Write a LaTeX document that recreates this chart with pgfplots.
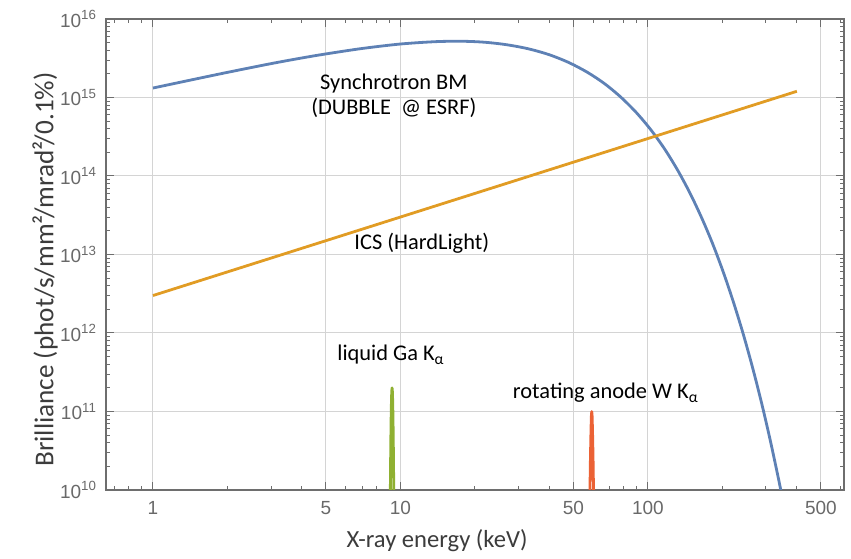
\documentclass[border=0pt]{standalone}
\usepackage{fontspec}
\setmainfont{Carlito}
\newfontfamily\tickfont{Liberation Sans}
\usepackage{pgfplots}
\pgfplotsset{compat=1.18}
\definecolor{bmBlue}{RGB}{94,129,181}
\definecolor{icsOrange}{RGB}{225,156,36}
\definecolor{gaGreen}{RGB}{143,176,50}
\definecolor{wRed}{RGB}{235,98,53}
\definecolor{frameGray}{RGB}{110,110,110}
\definecolor{gridGray}{RGB}{212,212,212}
\definecolor{tickGray}{RGB}{105,105,105}
\definecolor{labelGray}{RGB}{60,60,60}

\begin{document}
\begin{tikzpicture}
\begin{axis}[
    xmode=log, ymode=log,
    width=369pt, height=235.5pt, scale only axis,
    xmin=0.646, xmax=620,
    ymin=1e10, ymax=1e16,
    xtick={1,5,10,50,100,500},
    xticklabels={1,5,10,50,100,500},
    minor xtick={0.7,0.8,0.9,2,3,4,6,7,8,9,20,30,40,60,70,80,90,200,300,400,600},
    ytick={1e10,1e11,1e12,1e13,1e14,1e15,1e16},
    yticklabels={10\textsuperscript{10},10\textsuperscript{11},10\textsuperscript{12},10\textsuperscript{13},10\textsuperscript{14},10\textsuperscript{15},10\textsuperscript{16}},
    minor ytick={2e10,3e10,4e10,5e10,6e10,7e10,8e10,9e10,
                 2e11,3e11,4e11,5e11,6e11,7e11,8e11,9e11,
                 2e12,3e12,4e12,5e12,6e12,7e12,8e12,9e12,
                 2e13,3e13,4e13,5e13,6e13,7e13,8e13,9e13,
                 2e14,3e14,4e14,5e14,6e14,7e14,8e14,9e14,
                 2e15,3e15,4e15,5e15,6e15,7e15,8e15,9e15},
    xmajorgrids=true, ymajorgrids=true,
    grid style={draw=gridGray, line width=0.5pt},
    tick align=inside,
    major tick length=4pt, minor tick length=2.2pt,
    every tick/.style={draw=frameGray, line width=0.5pt},
    axis line style={draw=frameGray, line width=0.6pt},
    ticklabel style={font=\tickfont\fontsize{9.5}{11}\selectfont, text=tickGray},
    xticklabel style={yshift=-2pt},
    yticklabel style={xshift=-1pt},
    xlabel={X-ray energy (keV)},
    ylabel={Brilliance (phot/s/mm²/mrad²/0.1\%)},
    xlabel style={font=\fontsize{12.3}{14}\selectfont, text=labelGray,
                  at={(axis description cs:0.4485,-0.108)}, anchor=center},
    ylabel style={font=\fontsize{13.6}{15}\selectfont, text=labelGray,
                  at={(axis description cs:-0.0827,0.468)}, anchor=center},
    every axis plot/.style={line width=1.4pt, line join=round},
]
% synchrotron bending magnet
\addplot[bmBlue, smooth] coordinates {
    (1,1.32e15) (1.5,1.73e15) (2,2.09e15) (3,2.70e15) (4,3.19e15)
    (5,3.59e15) (7,4.21e15) (10,4.80e15) (14,5.15e15) (18,5.20e15)
    (22,5.05e15) (27,4.69e15) (33,4.16e15) (40,3.50e15) (48,2.78e15)
    (57,2.09e15) (67,1.49e15) (78,1.00e15) (90,6.37e14) (103,3.84e14)
    (117,2.19e14) (132,1.18e14) (148,6.03e13) (165,2.92e13) (183,1.35e13)
    (202,5.87e12) (222,2.43e12) (243,9.59e11) (265,3.59e11) (288,1.28e11)
    (312,4.32e10) (337,1.39e10) (352,7.03e9)
};
% inverse Compton source
\addplot[icsOrange] coordinates {
    (1,3.0e12) (400,1.2e15)
};
% liquid Ga K-alpha
\addplot[gaGreen] coordinates {
    (9.10,8.7e9) (9.125,2.3e10) (9.15,5.0e10) (9.175,9.2e10) (9.2,1.41e11)
    (9.225,1.83e11) (9.25,2.0e11) (9.275,1.83e11) (9.3,1.41e11)
    (9.325,9.2e10) (9.35,5.0e10) (9.375,2.3e10) (9.40,8.7e9)
};
% rotating anode W K-alpha
\addplot[wRed] coordinates {
    (58.3,8.9e9) (58.4,1.35e10) (58.6,2.75e10) (58.9,6.0e10) (59.1,8.8e10)
    (59.3,1.0e11) (59.5,8.8e10) (59.7,6.0e10) (60.0,2.75e10) (60.2,1.35e10)
    (60.3,8.9e9)
};
\node[font=\fontsize{11.2}{13}\selectfont] at (axis cs:9.41,1.49e15) {Synchrotron BM};
\node[font=\fontsize{11.2}{13}\selectfont] at (axis cs:9.41,7.35e14) {(DUBBLE\ \ @ ESRF)};
\node[font=\fontsize{11.2}{13}\selectfont] at (axis cs:12.2,1.40e13) {ICS (HardLight)};
\node[font=\fontsize{11.2}{13}\selectfont] at (axis cs:9.16,5.25e11) {liquid Ga K\textsubscript{α}};
\node[font=\fontsize{11.2}{13}\selectfont] at (axis cs:67.6,1.72e11) {rotating anode W K\textsubscript{α}};
\coordinate (sw) at (rel axis cs:0,0);
\coordinate (ne) at (rel axis cs:1,1);
\end{axis}
\pgfresetboundingbox
\path ([shift={(-53pt,-34pt)}]sw) rectangle ([shift={(3.5pt,9.5pt)}]ne);
\end{tikzpicture}
\end{document}
